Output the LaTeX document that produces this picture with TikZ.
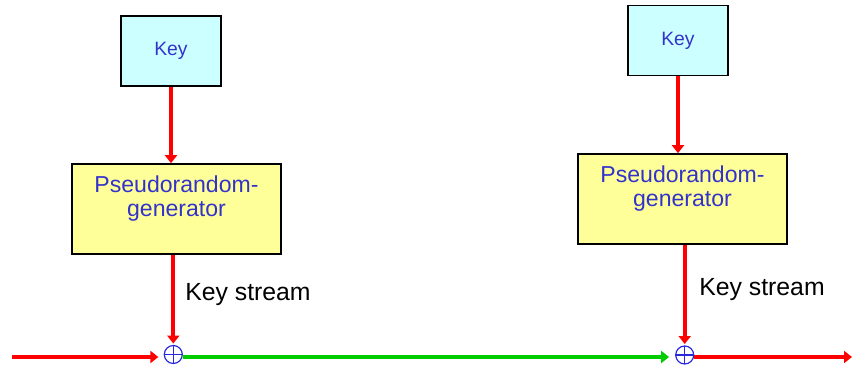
\documentclass[tikz,border=0pt]{standalone}
\usepackage{fontspec}
\setmainfont{Liberation Sans}
\usetikzlibrary{arrows.meta,positioning}
\definecolor{keycyan}{RGB}{204,255,255}
\definecolor{prgyellow}{RGB}{255,255,153}
\definecolor{txtblue}{RGB}{51,51,204}
\definecolor{xorblue}{RGB}{40,40,220}
\definecolor{streamgreen}{RGB}{0,204,0}

\begin{document}
\begin{tikzpicture}[
  x=0.75pt, y=-0.75pt,
  keybox/.style={rectangle, draw, line width=1.2pt, fill=keycyan,
                 minimum width=75pt, minimum height=52.5pt,
                 font=\fontsize{14.5}{17}\selectfont, text=txtblue},
  prgbox/.style={rectangle, draw, line width=1.2pt, fill=prgyellow,
                 minimum width=156.75pt, minimum height=67.5pt},
  prgtext/.style={align=center, inner sep=0pt,
                  font=\fontsize{17.3}{18}\selectfont, text=txtblue},
  kslabel/.style={inner sep=0pt, anchor=base west,
                  font=\fontsize{18.6}{21}\selectfont},
  xor/.style={circle, draw=xorblue, line width=0.9pt, minimum size=13.5pt,
              inner sep=0pt,
              path picture={\draw[xorblue, line width=0.9pt]
                (path picture bounding box.north) -- (path picture bounding box.south)
                (path picture bounding box.west) -- (path picture bounding box.east);}},
  arr/.style={-{Triangle[length=6pt,width=9pt]}, line width=3pt}
]
  \useasboundingbox (0,0) rectangle (853,366);

  % sender side
  \node[keybox] (key1) at (171,51) {Key};
  \node[prgbox] (prg1) at (176.5,209) {};
  \node[prgtext, below=9.5pt of prg1.north] (prg1txt) {Pseudorandom-\\generator};
  \node[xor] (xor1) at (173.3,354.5) {};

  % receiver side
  \node[keybox] (key2) at (678,40.5) {Key};
  \node[prgbox] (prg2) at (682.5,199) {};
  \node[prgtext, below=9.5pt of prg2.north] (prg2txt) {Pseudorandom-\\generator};
  \node[xor] (xor2) at (684.7,355) {};

  \node[kslabel] (ks1) at (185,301) {Key stream};
  \node[kslabel] (ks2) at (699,296) {Key stream};

  \coordinate (in) at (12,357);
  \coordinate (out) at (852,357);

  \draw[arr, red] (key1.south) -- (key1.south |- prg1.north);
  \draw[arr, red] (key2.south) -- (key2.south |- prg2.north);
  \draw[arr, red, shorten >=1pt] (prg1.south -| xor1.north) -- (xor1.north);
  \draw[arr, red, shorten >=1pt] (prg2.south -| xor2.north) -- (xor2.north);

  % data line: plaintext -> ciphertext -> plaintext
  \draw[arr, red, shorten >=4pt] (in) -- (in -| xor1.west);
  \draw[arr, streamgreen, shorten >=4.5pt] (xor1.east |- in) -- (xor2.west |- in);
  \draw[arr, red] (xor2.east |- in) -- (out);
\end{tikzpicture}
\end{document}
